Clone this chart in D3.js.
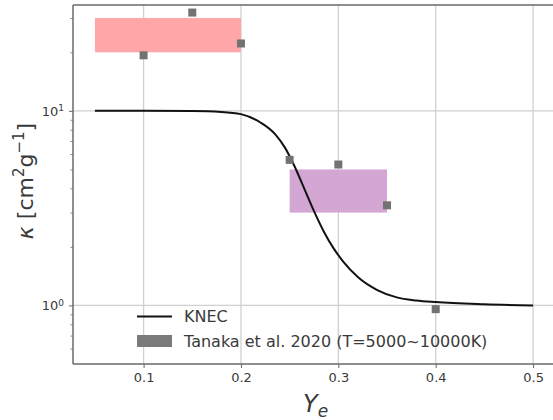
<!DOCTYPE html>
<html>
<head>
<meta charset="utf-8">
<script src="https://cdn.jsdelivr.net/npm/d3@7"></script>
<style>
  html, body { margin: 0; padding: 0; background: #fff; }
  svg { display: block; font-family: "DejaVu Sans", sans-serif; }
</style>
</head>
<body>
<svg id="chart" width="553" height="420"></svg>
<script>
// ---- data ----
const knecYe    = [0.05, 0.10, 0.15, 0.18, 0.20, 0.22, 0.235, 0.245, 0.255, 0.265, 0.275, 0.285, 0.295, 0.305, 0.32, 0.34, 0.36, 0.38, 0.40, 0.45, 0.50];
const knecKappa = [10, 10, 9.98, 9.88, 9.62, 8.71, 7.59, 6.49, 5.19, 3.98, 3.05, 2.40, 1.97, 1.68, 1.40, 1.20, 1.10, 1.06, 1.04, 1.014, 1.0];

const tanakaYe    = [0.10, 0.15, 0.20, 0.25, 0.30, 0.35, 0.40];
const tanakaKappa = [19.3, 32.0, 22.2, 5.6, 5.3, 3.27, 0.957];

const bandNames  = ["lanthanide-rich", "intermediate"];
const bandYe0    = [0.05, 0.25];
const bandYe1    = [0.20, 0.35];
const bandKappa0 = [20, 3];
const bandKappa1 = [30, 5];
const bandColors = ["#ffa6a8", "#d4a6d4"];

const xTicks = [0.1, 0.2, 0.3, 0.4, 0.5];
const xTickLabels = ["0.1", "0.2", "0.3", "0.4", "0.5"];
const yMajorTicks = [1, 10];
const yMajorExp = ["0", "1"];
const yMinorTicks = [0.6, 0.7, 0.8, 0.9, 2, 3, 4, 5, 6, 7, 8, 9, 20, 30];

const legendLabels = ["KNEC", "Tanaka et al. 2020 (T=5000~10000K)"];

// ---- layout ----
const svg = d3.select("#chart");
const L = 73, R = 555, T = 5, B = 364;
const x = d3.scaleLinear().domain([0.0275, 0.5225]).range([L, R]);
const y = d3.scaleLog().domain([0.5, 35]).range([B, T]);

const spineColor = "#6a6a6a";
const textColor = "#3a3a3a";

// grid
const grid = svg.append("g");
grid.selectAll("line.gx").data(xTicks).enter().append("line")
  .attr("x1", d => x(d)).attr("x2", d => x(d))
  .attr("y1", T).attr("y2", B)
  .attr("stroke", "#d0d0d0").attr("stroke-width", 1.3);
grid.selectAll("line.gy").data(yMajorTicks).enter().append("line")
  .attr("x1", L).attr("x2", R)
  .attr("y1", d => y(d)).attr("y2", d => y(d))
  .attr("stroke", "#d0d0d0").attr("stroke-width", 1.3);

// bands
svg.append("g").selectAll("rect").data(bandNames).enter().append("rect")
  .attr("x", (d, i) => x(bandYe0[i]))
  .attr("width", (d, i) => x(bandYe1[i]) - x(bandYe0[i]))
  .attr("y", (d, i) => y(bandKappa1[i]))
  .attr("height", (d, i) => y(bandKappa0[i]) - y(bandKappa1[i]))
  .attr("fill", (d, i) => bandColors[i]);

// KNEC curve
const knec = knecYe.map((v, i) => [v, knecKappa[i]]);
svg.append("path")
  .datum(knec)
  .attr("d", d3.line().x(d => x(d[0])).y(d => y(d[1])).curve(d3.curveMonotoneX))
  .attr("fill", "none").attr("stroke", "#111").attr("stroke-width", 2);

// Tanaka points
const sq = 8;
svg.append("g").selectAll("rect").data(tanakaYe).enter().append("rect")
  .attr("x", (d) => x(d) - sq / 2)
  .attr("y", (d, i) => y(tanakaKappa[i]) - sq / 2)
  .attr("width", sq).attr("height", sq)
  .attr("fill", "#727272");

// axes
const xAxis = d3.axisBottom(x).tickValues(xTicks).tickFormat((d, i) => xTickLabels[i]).tickSize(4).tickPadding(5);
const gx = svg.append("g").attr("transform", `translate(0,${B})`).call(xAxis);
gx.select(".domain").remove();
gx.selectAll(".tick line").attr("stroke", spineColor).attr("stroke-width", 1);
gx.selectAll(".tick text").attr("fill", textColor).attr("font-size", 13).attr("font-family", "DejaVu Sans");

const yMinorAxis = d3.axisLeft(y).tickValues(yMinorTicks).tickFormat("").tickSize(2.5);
const gym = svg.append("g").attr("transform", `translate(${L},0)`).call(yMinorAxis);
gym.select(".domain").remove();
gym.selectAll(".tick line").attr("stroke", spineColor).attr("stroke-width", 0.8);

const yAxis = d3.axisLeft(y).tickValues(yMajorTicks).tickFormat("").tickSize(4);
const gy = svg.append("g").attr("transform", `translate(${L},0)`).call(yAxis);
gy.select(".domain").remove();
gy.selectAll(".tick line").attr("stroke", spineColor).attr("stroke-width", 1);
gy.selectAll(".tick").each(function(d, i) {
  const t = d3.select(this).append("text")
    .attr("x", -9).attr("y", 0).attr("dy", "0.35em")
    .attr("text-anchor", "end").attr("fill", textColor)
    .attr("font-size", 13).attr("font-family", "DejaVu Sans");
  t.append("tspan").text("10");
  t.append("tspan").attr("font-size", 9).attr("dy", "-0.55em").text(yMajorExp[i]);
});

// spines (left, bottom, top; right spine lies just outside the frame)
const sp = svg.append("g").attr("stroke", spineColor).attr("stroke-width", 1.5);
sp.append("line").attr("x1", L).attr("x2", L).attr("y1", T).attr("y2", B);
sp.append("line").attr("x1", L).attr("x2", R).attr("y1", B).attr("y2", B);
sp.append("line").attr("x1", L).attr("x2", R).attr("y1", T).attr("y2", T);

// axis labels
const xl = svg.append("text")
  .attr("x", 303).attr("y", 412)
  .attr("fill", textColor).attr("font-size", 24).attr("font-family", "DejaVu Sans")
  .attr("font-style", "italic");
xl.append("tspan").text("Y");
xl.append("tspan").attr("font-size", 17).attr("dy", 5).text("e");

const yl = svg.append("text")
  .attr("transform", "translate(33,181) rotate(-90)")
  .attr("text-anchor", "middle")
  .attr("fill", textColor).attr("font-size", 22).attr("font-family", "DejaVu Sans");
yl.append("tspan").attr("font-style", "italic").text("κ");
yl.append("tspan").text(" [cm");
yl.append("tspan").attr("font-size", 15).attr("dy", -9).text("2");
yl.append("tspan").attr("dy", 9).text("g");
yl.append("tspan").attr("font-size", 15).attr("dy", -9).text("−1");
yl.append("tspan").attr("dy", 9).text("]");

// legend
const lg = svg.append("g");
lg.append("line").attr("x1", 137).attr("x2", 172).attr("y1", 316.5).attr("y2", 316.5)
  .attr("stroke", "#111").attr("stroke-width", 2);
lg.append("rect").attr("x", 137).attr("y", 335).attr("width", 35).attr("height", 12)
  .attr("fill", "#7a7a7a");
lg.selectAll("text").data(legendLabels).enter().append("text")
  .attr("x", 184).attr("y", (d, i) => 316.5 + i * 24.5).attr("dy", "0.35em")
  .attr("fill", textColor).attr("font-size", 16).attr("font-family", "DejaVu Sans")
  .text(d => d);
</script>
</body>
</html>
